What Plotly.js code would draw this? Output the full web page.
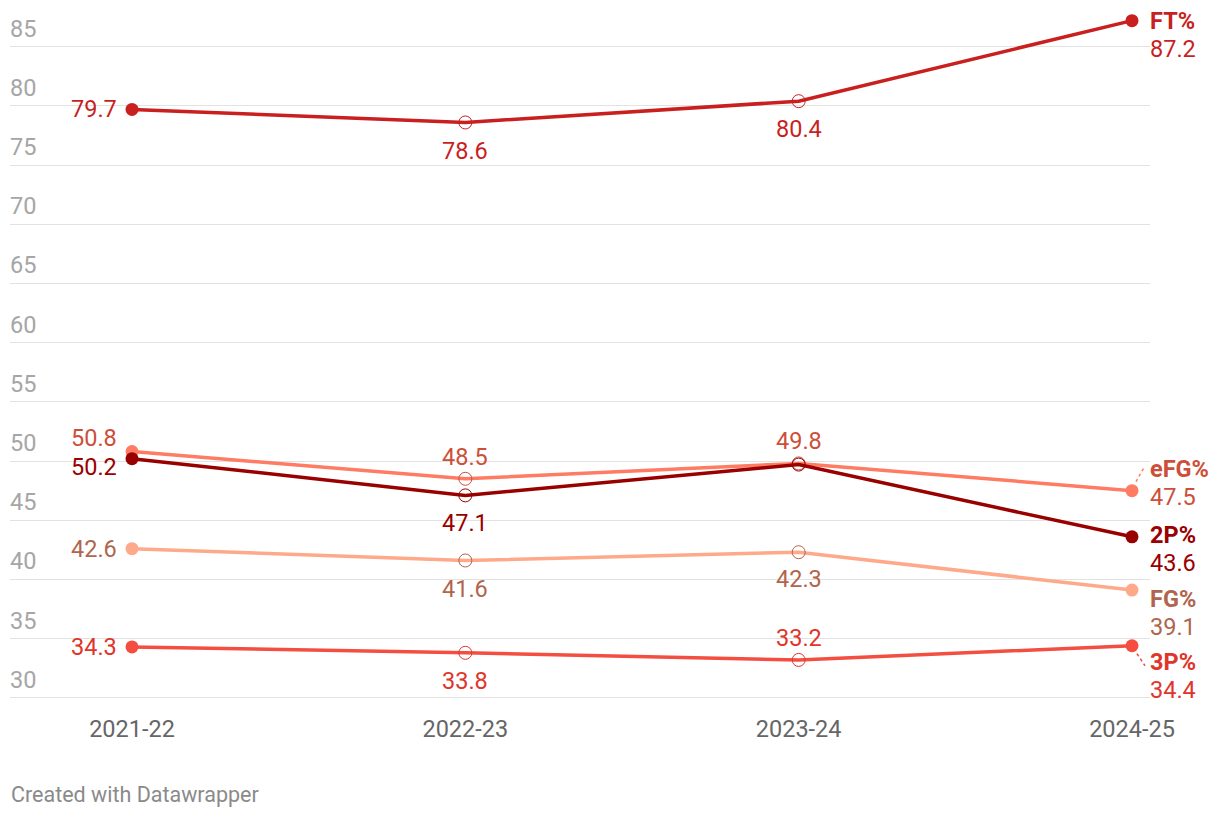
<!DOCTYPE html>
<html>
<head>
<meta charset="utf-8">
<script src="https://cdn.plot.ly/plotly-3.0.1.min.js"></script>
<style>
  html, body { margin: 0; padding: 0; background: #fff; }
  #chart { width: 1220px; height: 818px; }
</style>
</head>
<body>
<div id="chart"></div>
<script>
// Shooting splits by season (Datawrapper line chart)
const seasons = ['2021-22', '2022-23', '2023-24', '2024-25'];
const ftPct = [79.7, 78.6, 80.4, 87.2];
const efgPct = [50.8, 48.5, 49.8, 47.5];
const twoPct = [50.2, 47.1, 49.7, 43.6];
const fgPct = [42.6, 41.6, 42.3, 39.1];
const threePct = [34.3, 33.8, 33.2, 34.4];
const yTicks = [30, 35, 40, 45, 50, 55, 60, 65, 70, 75, 80, 85];

// label placement per point: [side, vertical offset px] | 'end' | null (hidden)
const series = [
    { name: 'FT%', y: ftPct, line: '#c91f1f', text: '#c91f1f',
      place: [['left', 0], ['below', 29], ['below', 28], 'end'], nameShift: 0 },
    { name: 'eFG%', y: efgPct, line: '#fe7c63', text: '#cc4f3a',
      place: [['left', -14], ['above', -22], ['above', -22], 'end'], nameShift: -22 },
    { name: '2P%', y: twoPct, line: '#990000', text: '#990000',
      place: [['left', 8], ['below', 28], null, 'end'], nameShift: -2 },
    { name: 'FG%', y: fgPct, line: '#ffa98b', text: '#b0654d',
      place: [['left', 0], ['below', 29], ['below', 27], 'end'], nameShift: 9 },
    { name: '3P%', y: threePct, line: '#f34e3f', text: '#e0352b',
      place: [['left', 0], ['below', 28], ['above', -22], 'end'], nameShift: 16 },
];

const FONT = 'Roboto, "Liberation Sans", sans-serif';
const LABEL_SIZE = 23.5;

const traces = series.map(s => ({
    x: seasons,
    y: s.y,
    type: 'scatter',
    mode: 'lines+markers',
    name: s.name,
    line: { color: s.line, width: 3.5 },
    marker: {
        size: [13, 13, 13, 13],
        symbol: ['circle', 'circle-open', 'circle-open', 'circle'],
        color: [s.line, s.text, s.text, s.line],
        line: { width: [0, 1, 1, 0], color: s.text },
        opacity: 1,
    },
    hoverinfo: 'x+y',
    cliponaxis: false,
}));

const annotations = [];
series.forEach(s => {
    s.y.forEach((v, i) => {
        const p = s.place[i];
        if (!p) return;
        const base = {
            x: i, y: v, xref: 'x', yref: 'y', showarrow: false,
            font: { family: FONT, size: LABEL_SIZE, color: s.text },
        };
        if (p === 'end') {
            annotations.push(Object.assign({}, base, {
                text: '<b>' + s.name + '</b>', xanchor: 'left', yanchor: 'middle',
                xshift: 16, yshift: -s.nameShift,
            }));
            annotations.push(Object.assign({}, base, {
                text: v.toFixed(1), xanchor: 'left', yanchor: 'middle',
                xshift: 16, yshift: -(s.nameShift + 28),
            }));
            return;
        }
        const [where, dy] = p;
        if (where === 'left') {
            annotations.push(Object.assign({}, base, {
                text: v.toFixed(1), xanchor: 'right', yanchor: 'middle', xshift: -13, yshift: -dy,
            }));
        } else {
            annotations.push(Object.assign({}, base, {
                text: v.toFixed(1), xanchor: 'center', yanchor: 'middle', yshift: -dy,
            }));
        }
    });
});

// y tick labels sit above their gridlines, on the left
yTicks.forEach(t => {
    annotations.push({
        x: 0, xref: 'paper', y: t, yref: 'y', showarrow: false,
        text: String(t), xanchor: 'left', yanchor: 'bottom', yshift: 2, xshift: -2,
        font: { family: FONT, size: LABEL_SIZE, color: '#a6a6a6' },
    });
});

annotations.push({
    x: 0, xref: 'paper', y: -0.139, yref: 'paper', showarrow: false,
    text: 'Created with Datawrapper', xanchor: 'left', yanchor: 'middle', xshift: -1,
    font: { family: FONT, size: 21.5, color: '#8a8a8a' },
});

// dotted leader lines for the end labels that were nudged away
const shapes = [
    { type: 'line', xref: 'x', yref: 'y', xsizemode: 'pixel', ysizemode: 'pixel',
      xanchor: 3, yanchor: efgPct[3], x0: 4, y0: 9, x1: 12, y1: 23,
      line: { color: '#fe7c63', width: 1.5, dash: 'dot' } },
    { type: 'line', xref: 'x', yref: 'y', xsizemode: 'pixel', ysizemode: 'pixel',
      xanchor: 3, yanchor: threePct[3], x0: 5, y0: -8, x1: 13, y1: -20,
      line: { color: '#f34e3f', width: 1.5, dash: 'dot' } },
];

const layout = {
    width: 1220, height: 818,
    margin: { l: 10, r: 70, t: 10, b: 119 },
    paper_bgcolor: '#fff', plot_bgcolor: '#fff',
    showlegend: false,
    font: { family: FONT },
    xaxis: {
        type: 'category',
        range: [-0.366, 3.054],
        showgrid: false, zeroline: false, showline: false,
        ticks: 'outside', ticklen: 9, tickcolor: 'rgba(0,0,0,0)',
        tickfont: { family: FONT, size: LABEL_SIZE, color: '#666' },
        fixedrange: true,
    },
    yaxis: {
        range: [29.9, 88.1],
        tickvals: yTicks,
        showticklabels: false,
        showgrid: true, gridcolor: '#e2e2e2', gridwidth: 1,
        zeroline: false, showline: false, ticks: '',
        fixedrange: true,
    },
    annotations,
    shapes,
};

Plotly.newPlot('chart', traces, layout, { displayModeBar: false, staticPlot: true });
</script>
</body>
</html>
